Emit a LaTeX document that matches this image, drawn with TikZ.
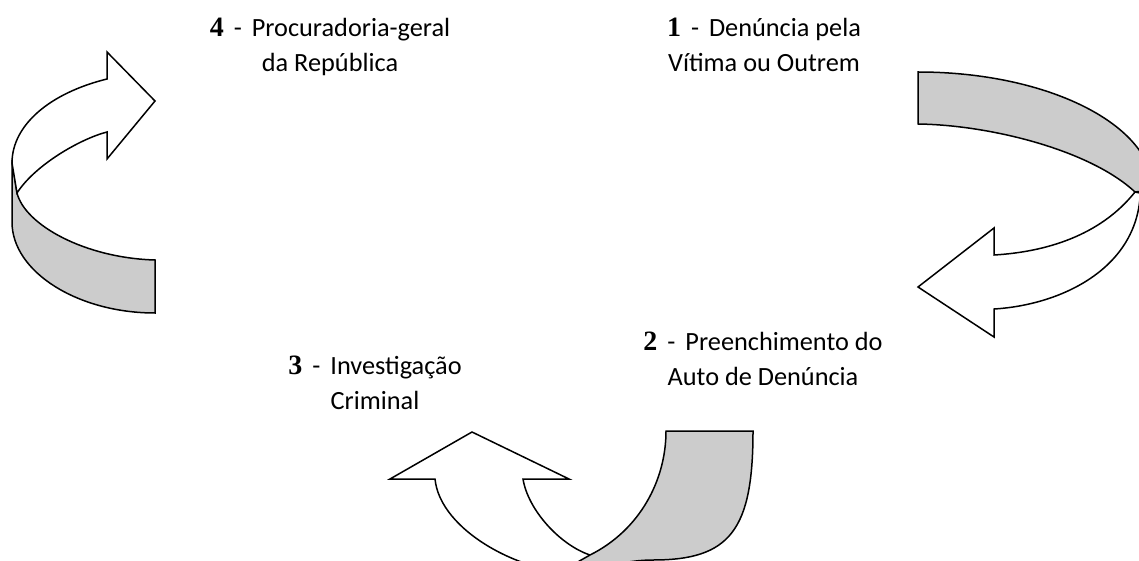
\documentclass[tikz,border=0pt]{standalone}
\usepackage{fontspec}
\setmainfont{Carlito}
\newfontfamily\numfont{Liberation Serif}
\definecolor{bandgray}{HTML}{CCCCCC}
\newcommand{\stepno}[1]{{\numfont\bfseries\fontsize{28}{34.5}\selectfont #1}\hspace{0.38em}-\hspace{0.38em}}

\begin{document}
\begin{tikzpicture}[
  x=1pt, y=-1pt,
  font=\fontsize{26.3}{34.5}\selectfont,
  face/.style={draw=black, fill=white, line width=1.5pt},
  band/.style={draw=black, fill=bandgray, line width=1.5pt},
  lbl/.style={align=center, inner sep=0pt},
]
\useasboundingbox (0,0) rectangle (1139,561);
\clip (0,0) rectangle (1139,561);

%% ---------- left arrow: 4 back to 1 ----------
\draw[band] (12,160) -- (12,222) .. controls (12,272) and (78,313) .. (155,313)
  -- (155,260) .. controls (85,258) and (25,225) .. (17,193) -- cycle;
\draw[face] (107,79) -- (107,52) -- (155,101) -- (107,159) -- (107,132)
  .. controls (80,139) and (35,165) .. (17,193) -- (12,163)
  .. controls (12,125) and (50,93) .. (107,79) -- cycle;

%% ---------- right arrow: 1 to 2 ----------
\draw[face] (994,255) -- (994,228) -- (918,287) -- (994,337) -- (994,309)
  .. controls (1060,305) and (1134,270) .. (1140,198) -- (1150,195) -- (1135,192)
  .. controls (1100,236) and (1045,252) .. (994,255) -- cycle;
\draw[band] (918,72) .. controls (1048,72) and (1153,125) .. (1153,190) -- (1135,192)
  .. controls (1090,150) and (990,125) .. (918,124) -- cycle;

%% ---------- bottom arrow: 2 to 3 ----------
\draw[face] (435,479) -- (390,479) -- (472,432) -- (569,479) -- (523,479)
  .. controls (528,510) and (560,545) .. (590,555) -- (600,580) -- (590,575)
  .. controls (520,575) and (440,530) .. (435,479) -- cycle;
\draw[band] (666,431) -- (753,431) .. controls (753,530) and (730,560) .. (653,560)
  .. controls (625,560) and (600,568) .. (575,578) -- (560,572) -- (590,555)
  .. controls (640,530) and (666,480) .. (666,431) -- cycle;

%% ---------- labels ----------
\node[lbl] (proc) at (330,47) {\stepno{4}Procuradoria-geral\\da República};
\node[lbl] (denun) at (764,45) {\stepno{1}Denúncia pela\\Vítima ou Outrem};
\node[lbl] (auto) at (763,359) {\stepno{2}Preenchimento do\\Auto de Denúncia};
\node[lbl] (invest) at (375,383) {\stepno{3}Investigação\\Criminal};

\end{tikzpicture}
\end{document}
